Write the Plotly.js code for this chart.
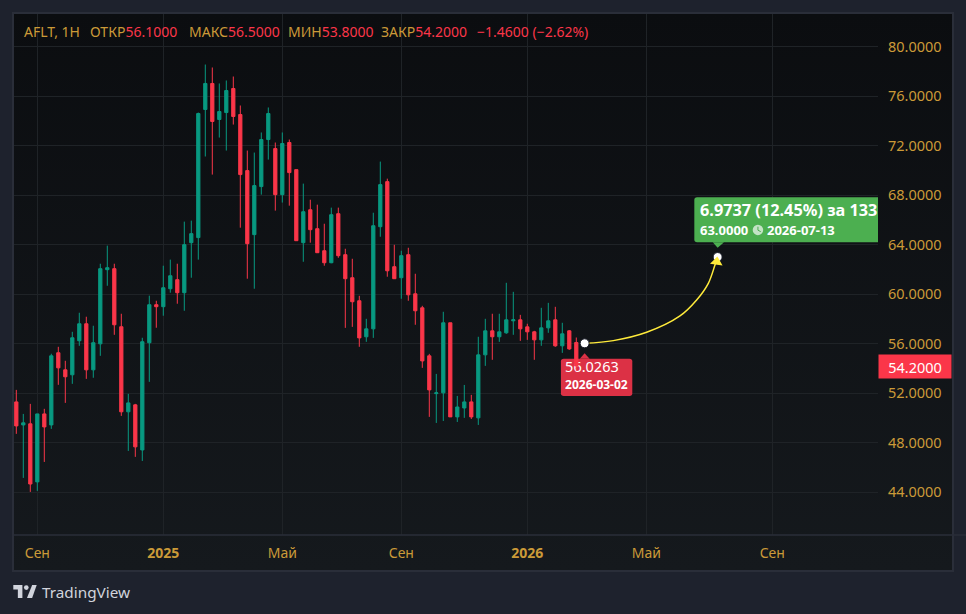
<!DOCTYPE html>
<html>
<head>
<meta charset="utf-8">
<script src="https://cdn.plot.ly/plotly-3.0.1.min.js"></script>
<style>
html, body { margin: 0; padding: 0; background: #1e222d; width: 966px; height: 614px; overflow: hidden; }
#pane { position: absolute; left: 12px; top: 12px; width: 942px; height: 560px; box-sizing: border-box;
        border: 2px solid #2a2e39; background: linear-gradient(to bottom, #0b0d10, #15191d); }
#chart { position: absolute; left: 0; top: 0; width: 966px; height: 614px; }
#logo { position: absolute; left: 13px; top: 585px; }
</style>
</head>
<body>
<div id="pane"></div>
<div id="chart"></div>
<svg id="logo" width="24" height="13" viewBox="0 0 36 20"><path fill="#d1d4dc" d="M14 0H0v7h7v13h7V0Z"/><circle fill="#d1d4dc" cx="20" cy="4" r="3.6"/><path fill="#d1d4dc" d="M29 0l-8 20h8l7-20h-7Z"/></svg>
<script>
// weekly bars
const opens = [51.30,49.44,49.53,44.84,50.33,49.44,55.27,53.89,53.49,56.24,57.61,53.89,55.99,61.98,62.06,57.37,50.50,51.06,47.42,56.08,
	59.15,58.99,60.44,61.17,60.12,64.16,64.57,74.92,77.02,74.11,74.67,76.61,74.51,69.98,64.81,68.69,72.49,71.76,68.04,72.25,
	70.06,64.16,66.82,65.29,63.51,62.54,66.50,63.19,61.33,59.47,56.56,57.20,65.45,69.09,62.22,61.33,63.19,60.03,58.90,55.02,
	51.97,52.03,57.69,50.09,50.81,51.30,50.01,55.10,57.04,56.56,56.88,57.85,57.93,57.36,56.96,56.31,57.28,57.93,55.83,57.04,56.10];
const highs = [52.27,50.33,51.14,50.33,50.74,55.19,55.75,54.62,56.96,58.50,58.18,57.45,62.46,63.92,62.46,58.42,51.95,51.14,56.48,59.88,
	59.47,62.30,62.79,62.46,65.86,65.94,74.67,78.55,78.31,77.02,77.26,77.58,75.24,71.60,71.44,73.06,75.08,72.25,73.06,72.49,
	70.06,68.93,67.63,67.23,65.69,66.99,66.99,63.67,62.86,59.87,58.01,66.58,70.71,69.33,63.99,63.51,63.75,61.65,59.06,55.18,
	53.56,58.58,57.69,51.78,52.67,51.87,56.56,58.01,58.42,58.42,60.92,60.19,58.33,57.61,57.04,58.90,59.30,58.98,57.69,57.10,56.50];
const lows = [48.72,45.16,44.03,44.11,46.45,49.12,52.68,51.22,52.76,55.83,53.16,53.25,55.02,60.68,56.72,50.17,47.34,46.86,46.53,52.92,
	57.29,58.26,60.12,59.23,58.66,61.33,62.79,71.12,69.66,72.65,71.60,73.70,65.37,61.25,60.44,68.04,70.87,66.75,67.40,67.15,
	64.32,62.62,64.16,63.35,62.30,62.50,62.94,57.28,57.36,55.75,56.15,56.47,64.64,61.41,61.25,59.63,59.47,57.53,54.05,50.09,
	49.60,49.76,50.09,49.68,50.01,49.92,49.44,54.21,54.70,56.15,56.80,56.72,56.23,56.31,54.70,55.83,56.88,55.75,55.26,55.50,53.80];
const closes = [49.36,49.61,44.67,50.33,49.28,55.02,54.05,53.33,56.48,57.61,53.89,56.08,62.06,62.14,57.53,50.50,51.22,47.67,56.16,59.15,
	58.99,60.52,61.49,60.12,64.00,64.89,74.59,77.02,73.95,74.75,76.45,74.35,69.66,64.08,68.77,72.49,74.59,68.04,72.17,69.82,
	64.32,66.66,65.21,63.35,62.54,66.42,63.11,61.25,59.39,56.47,57.20,65.53,68.85,61.89,61.25,63.11,59.95,58.66,54.61,52.27,
	52.03,57.69,50.09,50.89,51.30,50.09,55.10,57.04,56.56,56.96,57.93,57.93,57.20,56.96,56.31,57.28,57.85,55.83,56.80,55.58,54.20];

const tick_bars = [3, 21, 38, 55, 73, 90, 108];
const tick_labels = ['Сен', '<b>2025</b>', 'Май', 'Сен', '<b>2026</b>', 'Май', 'Сен'];
const price_ticks = [44, 48, 52, 56, 60, 64, 68, 72, 76, 80];

const header_labels = ['AFLT, 1H', 'ОТКР', 'МАКС', 'МИН', 'ЗАКР', ''];
const header_values = ['', '56.1000', '56.5000', '53.8000', '54.2000', '−1.4600 (−2.62%)'];
const header_left = [23, 89, 188, 287, 380, 476];

// yellow forecast curve
const forecast_x = [81.19, 85.29, 90.05, 94.81, 97.19, 98.86, 99.81, 100.19];
const forecast_y = [56.03, 56.25, 56.92, 58.24, 59.53, 60.88, 62.36, 63.00];

const gold = '#cb9a38';
const red = '#fb3649';
const green = '#089981';
const label_font = '"Noto Sans", sans-serif';

function rounded_box(x0, x1, y0, y1) {
	const rx = 0.4, ry = 0.22;
	return `M ${x0 + rx} ${y1} L ${x1 - rx} ${y1} Q ${x1} ${y1} ${x1} ${y1 - ry} L ${x1} ${y0 + ry} Q ${x1} ${y0} ${x1 - rx} ${y0}` +
		` L ${x0 + rx} ${y0} Q ${x0} ${y0} ${x0} ${y0 + ry} L ${x0} ${y1 - ry} Q ${x0} ${y1} ${x0 + rx} ${y1} Z`;
}

const chart_data = [
	{
		type: 'scatter',
		mode: 'text',
		x: [78.4, 78.4],
		y: [53.97, 52.6],
		text: ['56.0263', '<b>2026-03-02</b>'],
		textposition: 'middle right',
		textfont: {family: label_font, size: [14.5, 12], color: '#ffffff'},
		hoverinfo: 'skip',
		showlegend: false,
		zorder: 0
	},
	{
		type: 'candlestick',
		x: opens.map((v, i) => i),
		open: opens,
		high: highs,
		low: lows,
		close: closes,
		increasing: {line: {color: green, width: 1}, fillcolor: green},
		decreasing: {line: {color: red, width: 1}, fillcolor: red},
		whiskerwidth: 0,
		showlegend: false,
		zorder: 1
	},
	{
		type: 'scatter',
		mode: 'lines',
		x: forecast_x,
		y: forecast_y,
		line: {color: '#ffeb3b', width: 1.5, shape: 'spline', smoothing: 1},
		hoverinfo: 'skip',
		showlegend: false,
		zorder: 2
	},
	{
		type: 'scatter',
		mode: 'markers',
		x: [forecast_x[0], forecast_x[7]],
		y: [forecast_y[0], forecast_y[7]],
		marker: {color: '#ffffff', size: 9, line: {color: '#131722', width: 1}},
		hoverinfo: 'skip',
		showlegend: false,
		zorder: 3
	},
	{
		type: 'scatter',
		mode: 'markers',
		x: [100.05],
		y: [62.6],
		marker: {symbol: 'triangle-up', color: '#ffeb3b', size: 11, angle: 8},
		hoverinfo: 'skip',
		showlegend: false,
		zorder: 4
	}
];

const header_annotations = header_labels.map((label, i) => ({
	xref: 'paper', yref: 'paper', x: (header_left[i] - 14) / 864, y: 1 - (32 - 14) / 521,
	showarrow: false, xanchor: 'left', yanchor: 'middle', xshift: -1,
	text: `${label}<span style="color:${red}">${header_values[i]}</span>`,
	font: {family: label_font, size: 14, color: gold}
}));

const chart_layout = {
	width: 966,
	height: 614,
	margin: {l: 14, r: 88, t: 14, b: 79, pad: 0},
	paper_bgcolor: 'rgba(0,0,0,0)',
	plot_bgcolor: 'rgba(0,0,0,0)',
	boxgap: 0.34,
	font: {family: label_font, color: gold, size: 14},
	dragmode: false,
	xaxis: {
		range: [-0.33, 123.1],
		rangeslider: {visible: false},
		tickmode: 'array',
		tickvals: tick_bars,
		ticktext: tick_labels,
		ticks: '',
		showline: false,
		zeroline: false,
		gridcolor: '#1f2327',
		gridwidth: 1,
		ticklabelstandoff: 8,
		tickfont: {family: label_font, size: 14, color: gold}
	},
	yaxis: {
		side: 'right',
		range: [40.55, 82.63],
		tickmode: 'array',
		tickvals: price_ticks,
		tickformat: '.4f',
		ticks: '',
		showline: false,
		zeroline: false,
		gridcolor: '#1f2327',
		gridwidth: 1,
		ticklabelstandoff: 9,
		tickfont: {family: label_font, size: 14.5, color: gold}
	},
	shapes: [
		{type: 'line', xref: 'paper', yref: 'paper', x0: 0, x1: 1.102, y0: 0, y1: 0, line: {color: '#2a2e39', width: 1.5}},
		{type: 'path', layer: 'between', xref: 'x', yref: 'y', path: rounded_box(77.8, 88.0, 51.78, 54.79), fillcolor: '#dc3145', line: {width: 0}},
		{type: 'path', layer: 'between', xref: 'x', yref: 'y', path: 'M 80.5 54.79 L 81.19 55.23 L 81.9 54.79 Z', fillcolor: '#dc3145', line: {width: 0}},
		{type: 'path', layer: 'between', xref: 'x', yref: 'y', path: rounded_box(96.86, 124, 64.19, 67.83), fillcolor: '#4caf50', line: {width: 0}},
		{type: 'path', layer: 'between', xref: 'x', yref: 'y', path: 'M 99.5 64.19 L 100.19 63.76 L 101.1 64.19 Z', fillcolor: '#4caf50', line: {width: 0}},
		{type: 'circle', layer: 'between', xref: 'x', yref: 'y', x0: 105.2, x1: 106.7, y0: 64.77, y1: 65.61, fillcolor: '#c3e3c5', line: {width: 0}},
		{type: 'path', layer: 'between', xref: 'x', yref: 'y', path: 'M 105.95 65.45 L 105.95 65.17 L 106.35 65.05', line: {color: '#4caf50', width: 1}}
	],
	annotations: header_annotations.concat([
		{
			xref: 'paper', yref: 'y', x: 1, y: 54.2, xanchor: 'left', yanchor: 'middle', showarrow: false,
			text: '54.2000', width: 70, height: 21, align: 'center', bgcolor: red,
			font: {family: label_font, size: 14.5, color: '#ffffff'}
		},
		{
			xref: 'x', yref: 'y', x: 97.4, y: 66.79, xanchor: 'left', yanchor: 'middle', showarrow: false,
			text: '<b>6.9737 (12.45%) за 133</b>',
			font: {family: label_font, size: 16.3, color: '#ffffff'}
		},
		{
			xref: 'x', yref: 'y', x: 97.4, y: 65.2, xanchor: 'left', yanchor: 'middle', showarrow: false,
			text: '<b>63.0000</b>',
			font: {family: label_font, size: 13, color: '#ffffff'}
		},
		{
			xref: 'x', yref: 'y', x: 107.0, y: 65.2, xanchor: 'left', yanchor: 'middle', showarrow: false,
			text: '<b>2026-07-13</b>',
			font: {family: label_font, size: 13, color: '#ffffff'}
		},
		{
			xref: 'paper', yref: 'paper', x: 0, y: 0, xshift: 26, yshift: -57, xanchor: 'left', yanchor: 'middle', showarrow: false,
			text: 'TradingView',
			font: {family: label_font, size: 15.3, color: '#d1d4dc'}
		}
	])
};

Plotly.newPlot('chart', chart_data, chart_layout, {displayModeBar: false, staticPlot: true});
</script>
</body>
</html>
